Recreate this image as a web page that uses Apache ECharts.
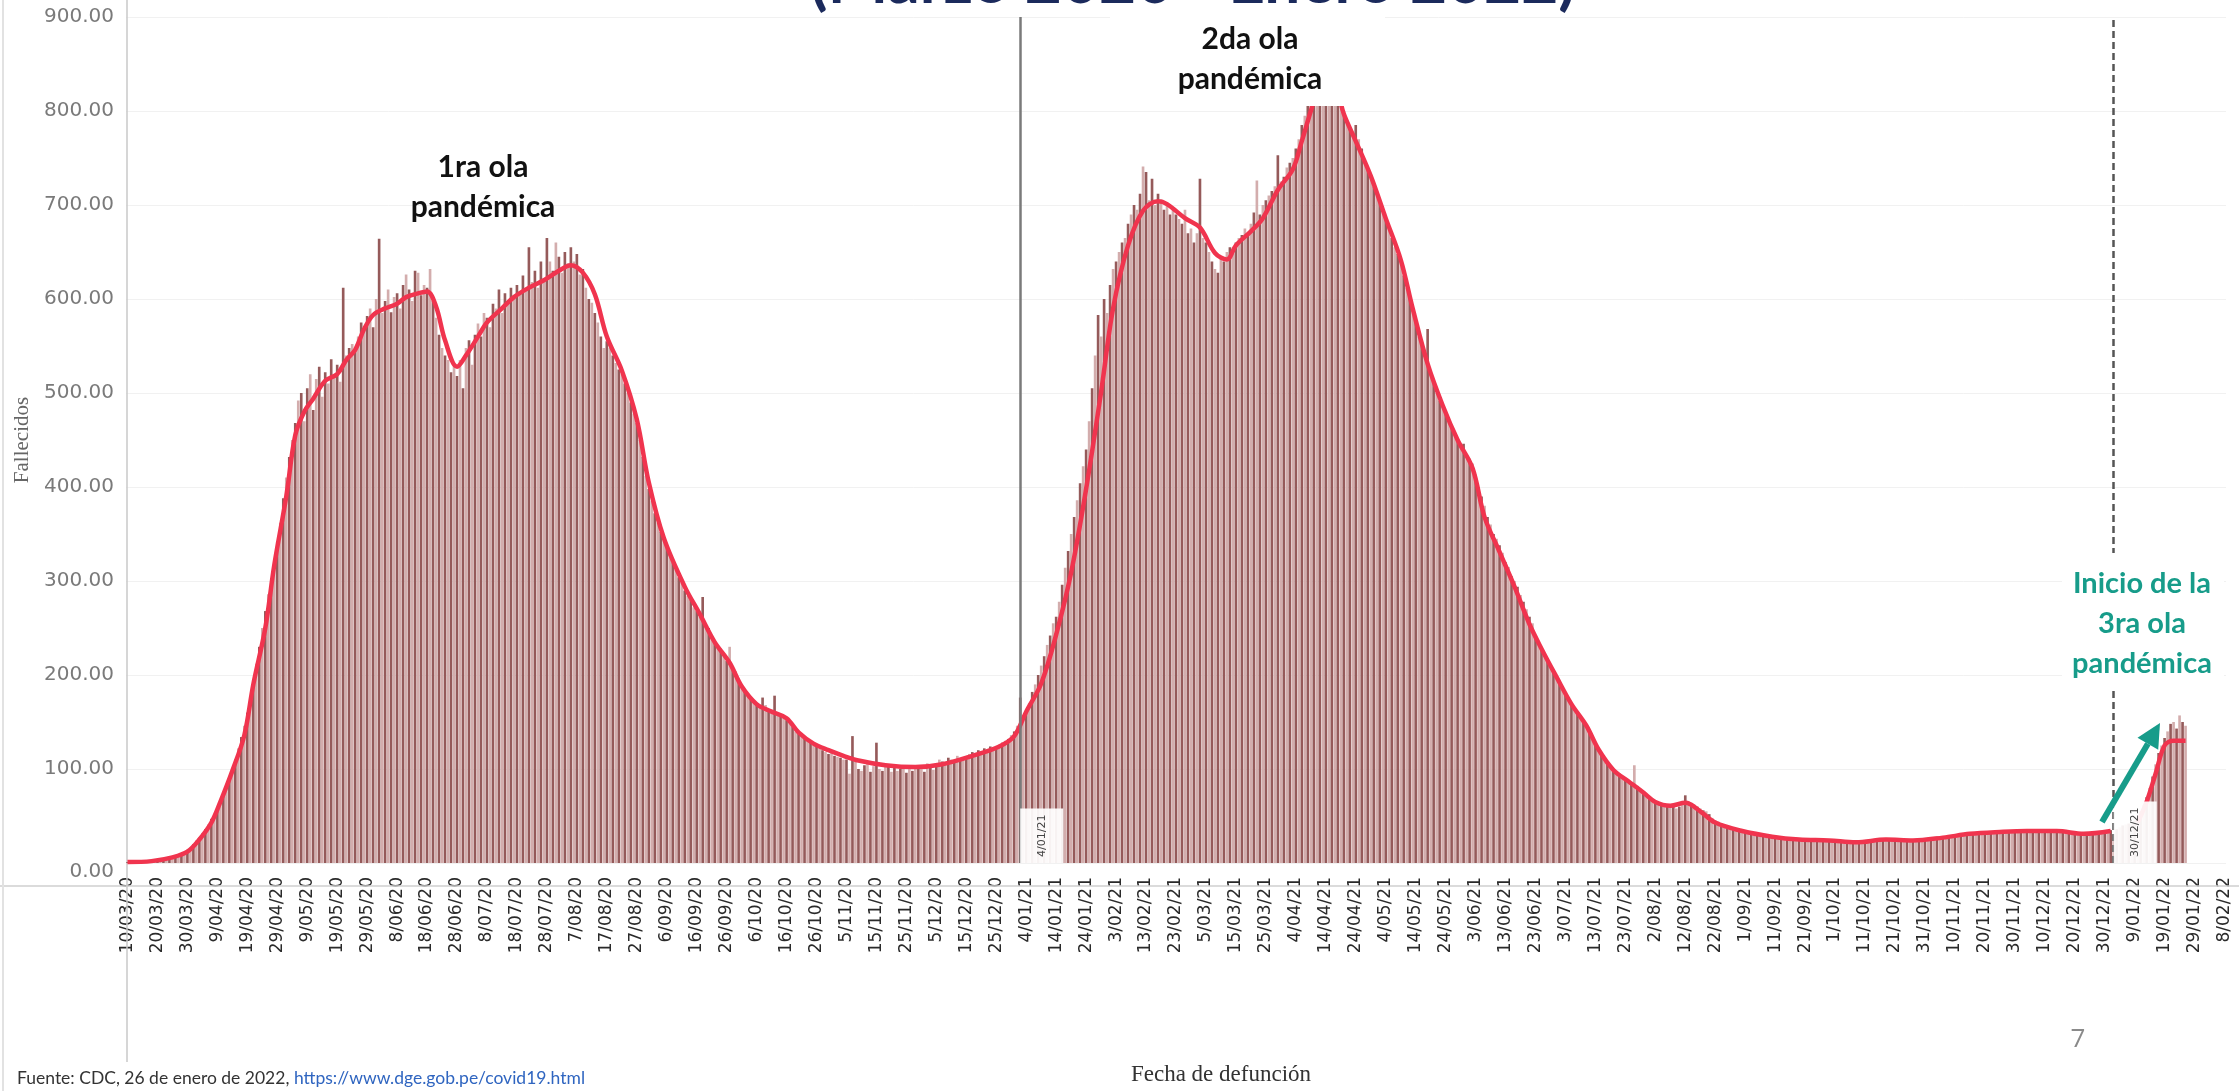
<!DOCTYPE html>
<html>
<head>
<meta charset="utf-8">
<script src="https://cdn.jsdelivr.net/npm/echarts@6/dist/echarts.min.js"></script>
<style>
html,body{margin:0;padding:0;background:#fff;}
#chart{width:2239px;height:1091px;}
</style>
</head>
<body>
<div id="chart"></div>
<script>
// ---- categories: one per day, 10/03/20 .. 8/02/22 ----
const startDate = [2020, 2, 10];
const dayCount = 701;
const dates = [];
for (let i = 0; i < dayCount; i++) {
  const d = new Date(Date.UTC(startDate[0], startDate[1], startDate[2] + i));
  dates.push(d.getUTCDate() + '/' + String(d.getUTCMonth() + 1).padStart(2, '0') + '/' + String(d.getUTCFullYear()).slice(2));
}

// ---- daily deaths (bars), 10/03/20 .. 26/01/22 ----
const deaths = [
  1,0,1,0,1,2,1,2,2,3,
  2,3,4,5,5,6,7,9,10,11,
  14,16,20,24,27,32,36,41,47,52,
  58,66,74,84,92,100,110,122,134,146,
  160,176,194,212,230,250,268,286,300,318,
  342,362,388,410,432,450,468,492,500,470,
  505,520,482,515,528,496,522,510,536,516,
  530,512,612,540,548,552,545,560,575,566,
  582,590,570,600,664,585,598,610,586,602,
  606,590,615,626,610,598,630,628,604,615,
  612,632,598,580,562,548,540,535,522,530,
  518,535,505,548,556,530,562,574,560,585,
  580,570,595,590,610,585,606,598,612,600,
  615,608,625,610,655,618,630,612,640,622,
  665,640,630,660,645,628,650,638,655,640,
  648,626,632,612,600,596,585,575,560,548,
  555,548,540,532,525,520,510,500,490,478,
  468,450,432,412,398,385,372,362,352,345,
  338,330,320,312,304,298,290,284,280,272,
  268,262,283,255,250,240,236,230,228,220,
  215,230,208,204,196,190,185,180,176,172,
  170,165,176,168,162,160,178,158,156,155,
  152,150,145,140,138,136,132,130,128,126,
  124,122,120,118,116,117,114,113,112,110,
  110,95,135,108,100,98,104,106,97,103,
  128,100,98,103,105,97,102,98,100,103,
  96,100,98,102,104,100,97,106,103,99,
  104,110,108,106,112,110,108,114,110,112,
  112,116,118,115,120,118,122,120,124,121,
  124,126,128,130,132,136,140,146,176,152,
  160,170,182,190,200,210,220,232,242,255,
  262,278,296,314,332,350,368,386,404,422,
  440,470,505,540,583,560,600,585,615,632,
  640,650,660,665,680,690,700,695,712,741,
  735,705,728,700,712,706,695,700,690,698,
  690,685,680,695,670,675,660,670,728,665,
  660,650,640,632,628,645,640,650,655,648,
  660,665,668,675,670,680,692,726,690,700,
  705,710,715,720,753,725,730,740,745,750,
  760,770,785,795,810,820,830,840,850,855,
  860,852,845,830,820,810,800,790,782,775,
  785,770,760,745,738,730,720,712,705,695,
  685,675,665,655,648,640,625,612,600,590,
  575,560,552,545,568,520,510,500,492,485,
  478,470,462,455,450,445,446,435,430,425,
  413,400,390,380,368,360,350,345,338,330,
  320,315,305,300,294,285,278,270,262,255,
  240,232,228,222,215,210,205,198,192,188,
  180,175,170,165,160,155,150,146,140,135,
  125,120,116,112,108,104,100,97,95,92,
  90,88,86,104,82,79,76,73,70,68,
  66,64,62,63,60,61,62,58,60,63,
  72,66,64,62,60,58,56,55,52,48,
  45,44,42,40,39,38,37,36,35,34,
  34,33,32,31,31,30,30,29,29,28,
  28,27,27,26,26,26,25,25,25,25,
  25,24,24,25,24,23,24,24,23,24,
  24,23,22,23,22,22,21,22,22,23,
  23,24,24,25,25,26,25,25,24,25,
  25,24,24,23,24,24,25,24,25,26,
  26,26,27,27,28,27,27,28,28,29,
  29,30,30,31,31,32,31,32,33,32,
  32,33,33,34,33,34,33,34,34,35,
  34,35,34,35,36,34,35,34,35,36,
  35,34,36,35,34,35,34,33,34,33,
  32,32,31,31,30,31,30,31,32,33,
  33,32,35,30,36,38,40,41,42,44,
  45,48,55,62,70,80,92,105,117,125,
  133,140,148,150,143,157,150,146
];

// ---- moving average (red line): day index & value ----
const avgDayA = [0,8,15,20,24,28,31,35,39,42,46,49,53,56,59,62,66,70,73,76,79,82,86,90,93,97,100,103,106,110,113,117,120,125,129,134,139,144,148,152,156,160,165,170,174,179,186,191,196,201,205,210,215,220,224,229,234,239,244,253,263,272,282,291,296,300,305,310,315,320,325,329,334,339,344,347,353,358,363,367,370,375,379,384,389,392,395,398,401,404,406,410,415,420,425,429,434,439,444,449,453,458,463,468,472,477,482,487,491,496,501,506,510,515,520,525,530,539,549,558,568,577,587,596,606,615,625,634,644,653,662];
const avgValA = [1,2,6,12,25,43,65,98,136,190,250,317,390,455,480,494,513,520,535,546,568,583,590,595,602,606,608,592,556,528,540,560,575,590,602,612,620,630,636,628,605,560,524,472,405,346,294,265,235,213,188,169,161,154,139,127,120,114,109,104,102,105,114,124,135,161,191,243,309,398,501,590,657,694,704,701,686,676,649,642,657,672,686,716,738,768,800,830,840,820,797,768,731,686,642,590,531,487,450,420,368,331,294,254,228,198,169,146,121,99,87,75,65,61,64,55,43,34,28,25,24,22,25,24,27,31,33,34,34,31,34];
const avgDayB = [671,674,677,680,683,685,687];
const avgValB = [43,65,95,125,130,130,130];

// ---- reference lines (day index) ----
const refLineDays = [298, 663];
const refLineText = ['4/01/21', '30/12/21'];

// ---- y ticks ----
const yMin = 0, yMax = 900, yStep = 100;

const barDark = '#955a5a', barLight = '#d3adad';
const redLine = '#f0344e';
const teal = '#179c8a';

const chart = echarts.init(document.getElementById('chart'), null, {renderer: 'canvas'});

const arrowTail = [2102, 822], arrowTip = [2160, 723];
const ux = (arrowTip[0] - arrowTail[0]), uy = (arrowTip[1] - arrowTail[1]);
const ul = Math.hypot(ux, uy);
const u = [ux / ul, uy / ul], n = [-u[1], u[0]];
const headLen = 24, headHalf = 12;
const base = [arrowTip[0] - headLen * u[0], arrowTip[1] - headLen * u[1]];

const option = {
  animation: false,
  backgroundColor: '#ffffff',
  grid: {left: 126, right: 13, top: 17, bottom: 206, containLabel: false},
  xAxis: {
    type: 'category',
    data: dates,
    boundaryGap: true,
    axisLine: {show: false},
    axisTick: {show: false},
    axisLabel: {interval: 9, rotate: 90, fontSize: 17, fontFamily: 'DejaVu Sans', color: '#2a2a2a', margin: 14},
    name: 'Fecha de defunción',
    nameLocation: 'middle',
    nameGap: 200,
    nameTextStyle: {fontFamily: 'Liberation Serif', fontSize: 23, color: '#333', padding: [0, 0, 0, 90]}
  },
  yAxis: {
    type: 'value', min: yMin, max: yMax, interval: yStep,
    axisLine: {show: false},
    axisTick: {show: false},
    splitLine: {lineStyle: {color: '#f1f1f1', width: 1}},
    axisLabel: {
      fontSize: 20, fontFamily: 'DejaVu Sans', color: '#7a7a7a', margin: 12,
      formatter: v => v === 0 ? '{z|0.00}' : v.toFixed(2),
      rich: {z: {fontSize: 20, fontFamily: 'DejaVu Sans', color: '#7a7a7a', padding: [18, 0, 0, 0]}}
    },
    name: 'Fallecidos',
    nameLocation: 'middle',
    nameGap: 92,
    nameTextStyle: {fontFamily: 'Liberation Serif', fontSize: 21, color: '#666'}
  },
  series: [
    {
      type: 'bar',
      data: deaths,
      barCategoryGap: '12%',
      itemStyle: {color: p => (p.dataIndex % 2 === 0 ? barDark : barLight)},
      z: 2
    },
    {
      type: 'line',
      data: avgDayA.map((d, i) => [d, avgValA[i]]),
      smooth: 0.35,
      symbol: 'none',
      lineStyle: {color: redLine, width: 4.5},
      z: 4,
      markLine: {
        silent: true,
        symbol: 'none',
        z: 6,
        data: refLineDays.map((d, i) => ({
          xAxis: d,
          lineStyle: i === 0 ? {color: '#7a7a7a', width: 2.5, type: 'solid'} : {color: '#555', width: 2.5, type: [7, 4]},
          label: {
            show: true, position: 'insideStartBottom', formatter: refLineText[i],
            fontSize: 11, color: '#444', fontFamily: 'DejaVu Sans',
            backgroundColor: 'rgba(255,255,255,0.92)', padding: [16, 6, 16, 6], distance: 0
          }
        }))
      }
    },
    {
      type: 'line',
      data: avgDayB.map((d, i) => [d, avgValB[i]]),
      smooth: 0.35,
      symbol: 'none',
      lineStyle: {color: redLine, width: 4.5},
      z: 4
    }
  ],
  graphic: [
    // frame lines
    {type: 'line', z: 1, shape: {x1: 127, y1: 0, x2: 127, y2: 1062}, style: {stroke: '#c9c9c9', lineWidth: 1.5}},
    {type: 'line', z: 1, shape: {x1: 0, y1: 886, x2: 2239, y2: 886}, style: {stroke: '#cfcfcf', lineWidth: 1.5}},
    {type: 'line', z: 1, shape: {x1: 3, y1: 0, x2: 3, y2: 1091}, style: {stroke: '#e2e2e2', lineWidth: 2}},
    // title (cut at top)
    {type: 'text', z: 100, x: 1193, y: -18,
      style: {text: '(Marzo 2020 - Enero 2022)', fill: '#1b2a5c', font: 'bold 64px Lato', textAlign: 'center', textVerticalAlign: 'middle'}},
    // 2da ola box covering the peak
    {type: 'rect', z: 90, shape: {x: 1110, y: 10, width: 275, height: 96}, style: {fill: '#ffffff'}},
    {type: 'text', z: 100, x: 1250, y: 59,
      style: {text: '2da ola\npandémica', fill: '#111', font: 'bold 30px Lato', textAlign: 'center', textVerticalAlign: 'middle', lineHeight: 40}},
    {type: 'text', z: 100, x: 483, y: 187,
      style: {text: '1ra ola\npandémica', fill: '#111', font: 'bold 30px Lato', textAlign: 'center', textVerticalAlign: 'middle', lineHeight: 40}},
    // 3ra ola
    {type: 'rect', z: 90, shape: {x: 2062, y: 553, width: 162, height: 134}, style: {fill: '#ffffff'}},
    {type: 'text', z: 100, x: 2142, y: 624,
      style: {text: 'Inicio de la\n3ra ola\npandémica', fill: teal, font: 'bold 29px Lato', textAlign: 'center', textVerticalAlign: 'middle', lineHeight: 40}},
    {type: 'line', z: 100, shape: {x1: arrowTail[0], y1: arrowTail[1], x2: base[0], y2: base[1]}, style: {stroke: teal, lineWidth: 6}},
    {type: 'polygon', z: 100, shape: {points: [arrowTip, [base[0] + headHalf * n[0], base[1] + headHalf * n[1]], [base[0] - headHalf * n[0], base[1] - headHalf * n[1]]]}, style: {fill: teal}},
    // footer
    {type: 'text', z: 100, x: 17, y: 1078,
      style: {
        text: '{a|Fuente: CDC, 26 de enero de 2022, }{u|https://www.dge.gob.pe/covid19.html}',
        textVerticalAlign: 'middle',
        rich: {a: {fontFamily: 'Lato', fontSize: 17.5, fill: '#333', color: '#333'}, u: {fontFamily: 'Lato', fontSize: 17.5, fill: '#2f65c0', color: '#2f65c0'}}
      }},
    {type: 'text', z: 100, x: 2078, y: 1040,
      style: {text: '7', fill: '#8a8a8a', font: '26px "Open Sans"', textAlign: 'center', textVerticalAlign: 'middle'}}
  ]
};
chart.setOption(option);
</script>
</body>
</html>
